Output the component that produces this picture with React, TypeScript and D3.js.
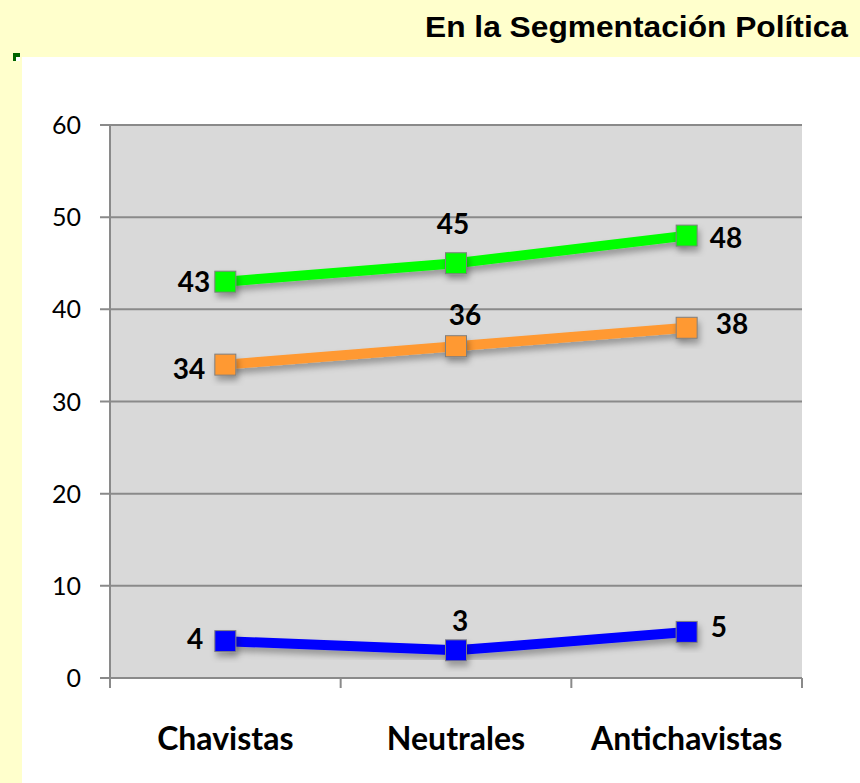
import React from "react";
import * as d3 from "d3";

const categories = ["Chavistas", "Neutrales", "Antichavistas"];
const seriesNames = ["Verde", "Naranja", "Azul"];
const seriesValues = [
  [43, 45, 48],
  [34, 36, 38],
  [4, 3, 5],
];
const seriesColors = ["#00FF00", "#FF9933", "#0000FF"];
const yTicks = [0, 10, 20, 30, 40, 50, 60];
const title = "En la Segmentación Política";

// label offsets (layout only): [dx, dy] per series per category
const labelOffsets = [
  [[-15, 10], [-3, -29], [23, 12]],
  [[-20, 14], [9, -21], [29, 6]],
  [[-22, 8], [4, -19], [24, 5]],
];

const W = 860;
const H = 783;
const plot = { left: 110, right: 802, top: 125, bottom: 678 };

export default function App() {
  const x = d3.scaleBand().domain(categories).range([plot.left, plot.right]).padding(0);
  const y = d3.scaleLinear().domain([0, 60]).range([plot.bottom, plot.top]);
  const cx = (c: string) => (x(c) as number) + x.bandwidth() / 2;
  const line = d3
    .line<number>()
    .x((_, i) => cx(categories[i]))
    .y((d) => y(d));
  const ms = 21;
  const labelFont = "Lato, 'Open Sans', sans-serif";
  const anchors = ["end", "middle", "start"];

  return (
    <svg
      width={W}
      height={H}
      style={{ position: "absolute", left: 0, top: 0, display: "block" }}
    >
      <defs>
        <filter id="shadow" x="-50%" y="-50%" width="200%" height="200%">
          <feDropShadow dx="2" dy="5" stdDeviation="3" floodColor="#000" floodOpacity="0.3" />
        </filter>
      </defs>
      <rect x={0} y={0} width={W} height={H} fill="#FFFFCC" />
      <rect x={22} y={57} width={W - 22} height={H - 57} fill="#FFFFFF" />
      <rect x={13} y={53} width={7} height={8} fill="#006400" />
      <rect x={16} y={57} width={4} height={4} fill="#FFFFFF" />
      <text
        x={848}
        y={37}
        textAnchor="end"
        fontFamily="'Liberation Sans', Arial, sans-serif"
        fontWeight="bold"
        fontSize={29}
        textLength={423}
        lengthAdjust="spacingAndGlyphs"
        fill="#000"
      >
        {title}
      </text>

      <rect
        x={plot.left}
        y={plot.top}
        width={plot.right - plot.left}
        height={plot.bottom - plot.top}
        fill="#D9D9D9"
      />
      {yTicks.map((t) => (
        <g key={t}>
          <line x1={plot.left - 10} x2={plot.right} y1={y(t)} y2={y(t)} stroke="#8a8a8a" strokeWidth={2} />
          <text
            x={81}
            y={y(t) + 9}
            textAnchor="end"
            fontFamily={labelFont}
            fontSize={25}
            fill="#000"
          >
            {t}
          </text>
        </g>
      ))}
      <line x1={plot.left} x2={plot.left} y1={plot.top} y2={plot.bottom + 10} stroke="#8a8a8a" strokeWidth={2} />
      {categories.map((c) => (
        <line
          key={c}
          x1={(x(c) as number) + x.bandwidth()}
          x2={(x(c) as number) + x.bandwidth()}
          y1={plot.bottom}
          y2={plot.bottom + 10}
          stroke="#8a8a8a"
          strokeWidth={2}
        />
      ))}
      {categories.map((c) => (
        <text
          key={c}
          x={cx(c)}
          y={750}
          textAnchor="middle"
          fontFamily={labelFont}
          fontWeight="bold"
          fontSize={32}
          fill="#000"
        >
          {c}
        </text>
      ))}

      {seriesValues.map((vals, si) => (
        <g key={seriesNames[si]}>
          <path
            d={line(vals) as string}
            fill="none"
            stroke={seriesColors[si]}
            strokeWidth={10}
            filter="url(#shadow)"
          />
          {vals.map((v, ci) => (
            <rect
              key={ci}
              x={cx(categories[ci]) - ms / 2}
              y={y(v) - ms / 2}
              width={ms}
              height={ms}
              fill={seriesColors[si]}
              stroke="#7f7f7f"
              strokeWidth={1}
              filter="url(#shadow)"
            />
          ))}
          {vals.map((v, ci) => (
            <text
              key={"l" + ci}
              x={cx(categories[ci]) + labelOffsets[si][ci][0]}
              y={y(v) + labelOffsets[si][ci][1]}
              textAnchor={anchors[ci] as any}
              fontFamily={labelFont}
              fontWeight="bold"
              fontSize={28}
              fill="#000"
            >
              {v}
            </text>
          ))}
        </g>
      ))}
    </svg>
  );
}
